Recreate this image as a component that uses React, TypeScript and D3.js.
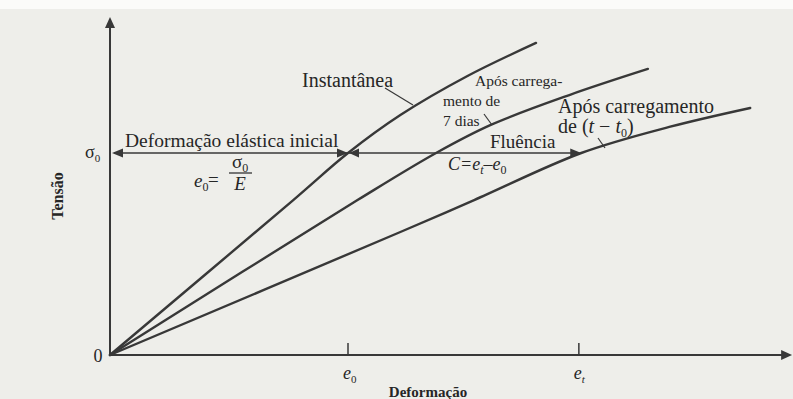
import React from "react";
import * as d3 from "d3";

// Stress–strain curves for concrete under sustained load (units: strain / e0, stress / σ0)
const instantStrain = [0, 0.77, 1.0, 1.22, 1.5, 1.79];
const instantStress = [0, 0.767, 1.0, 1.188, 1.38, 1.545];

const sevenDayStrain = [0, 1.04, 1.37, 1.6, 1.93, 2.26];
const sevenDayStress = [0, 0.767, 1.0, 1.139, 1.287, 1.416];

const creepStrain = [0, 1.22, 1.53, 1.98, 2.35, 2.69];
const creepStress = [0, 0.609, 0.767, 1.0, 1.129, 1.223];

const strainTickValues = [1.0, 1.97];
const strainTickSubs = ["0", "t"];
const stressLevel = 1.0;
const axisMaxStrain = 2.866;
const axisMaxStress = 1.673;

const W = 793;
const H = 399;
const INK = "#383838";
const TEXT = "#262626";
const SERIF = "'Liberation Serif', 'DejaVu Serif', serif";

const x = d3.scaleLinear().domain([0, 1]).range([110, 348]);
const y = d3.scaleLinear().domain([0, 1]).range([355, 153]);

const toPoints = (xs: number[], ys: number[]) => xs.map((v, i) => [v, ys[i]] as [number, number]);

const line = d3
  .line<[number, number]>()
  .x((d) => x(d[0]))
  .y((d) => y(d[1]))
  .curve(d3.curveCatmullRom.alpha(0.5));

const curves = [
  toPoints(instantStrain, instantStress),
  toPoints(sevenDayStrain, sevenDayStress),
  toPoints(creepStrain, creepStress),
];

// filled triangle arrowhead with tip at (tx,ty) pointing in direction angle (radians)
function arrowHead(tx: number, ty: number, angle: number, len = 11, half = 4.5) {
  const bx = tx - Math.cos(angle) * len;
  const by = ty - Math.sin(angle) * len;
  const px = -Math.sin(angle) * half;
  const py = Math.cos(angle) * half;
  return `M${tx},${ty}L${bx + px},${by + py}L${bx - px},${by - py}Z`;
}

export default function App() {
  const x0 = x(0);
  const y0 = y(0);
  const xEnd = x(axisMaxStrain);
  const yTop = y(axisMaxStress);
  const ys = y(stressLevel);
  const xInst = x(instantStrain[2]);
  const xCreep = x(creepStrain[3]);

  return (
    <svg
      width={W}
      height={H}
      viewBox={`0 0 ${W} ${H}`}
      style={{ position: "absolute", left: 0, top: 0, display: "block" }}
      fontFamily={SERIF}
    >
      <rect x={0} y={0} width={W} height={H} fill="#eeeeea" />
      <rect x={0} y={0} width={W} height={9} fill="#fbfbf9" />

      {/* axes */}
      <line x1={x0} y1={y0} x2={x0} y2={yTop + 6} stroke={INK} strokeWidth={2} />
      <path d={arrowHead(x0, yTop, -Math.PI / 2, 11, 5)} fill={INK} />
      <line x1={x0} y1={y0} x2={xEnd - 6} y2={y0} stroke={INK} strokeWidth={2} />
      <path d={arrowHead(xEnd, y0, 0, 11, 5)} fill={INK} />

      {/* strain ticks */}
      {strainTickValues.map((v, i) => (
        <g key={i}>
          <line x1={x(v)} y1={y0} x2={x(v)} y2={y0 - 12} stroke={INK} strokeWidth={1.5} />
          <text x={x(v) - 5} y={y0 + 24} fontSize={18} fontStyle="italic" fill={TEXT}>
            e
            <tspan fontSize={11} dy={4} fontStyle={strainTickSubs[i] === "0" ? "normal" : "italic"}>
              {strainTickSubs[i]}
            </tspan>
          </text>
        </g>
      ))}

      <text x={98} y={362} fontSize={18} textAnchor="middle" fill={TEXT}>0</text>
      <text x={85} y={158} fontSize={18} fill={TEXT}>
        σ<tspan fontSize={11} dy={4}>0</tspan>
      </text>

      {/* axis titles */}
      <text x={428} y={397} fontSize={15} fontWeight="bold" textAnchor="middle" fill={TEXT}>
        Deformação
      </text>
      <text
        transform="translate(63,196) rotate(-90)"
        fontSize={16}
        fontWeight="bold"
        textAnchor="middle"
        fill={TEXT}
      >
        Tensão
      </text>

      {/* curves */}
      {curves.map((c, i) => (
        <path key={i} d={line(c) ?? ""} fill="none" stroke={INK} strokeWidth={2.4} strokeLinecap="round" />
      ))}

      {/* stress level σ0: elastic strain and creep arrows */}
      <line x1={x0 + 4} y1={ys} x2={xCreep - 6} y2={ys} stroke={INK} strokeWidth={1.6} />
      <path d={arrowHead(x0 + 2, ys, Math.PI, 11, 4.5)} fill={INK} />
      <path d={arrowHead(xInst, ys, 0, 11, 4.5)} fill={INK} />
      <path d={arrowHead(xInst + 1, ys, Math.PI, 10, 4.5)} fill={INK} />
      <path d={arrowHead(xCreep, ys, 0, 11, 4.5)} fill={INK} />

      <text x={125} y={147} fontSize={19.5} fill={TEXT}>Deformação elástica inicial</text>

      {/* e0 = σ0 / E */}
      <text x={194} y={187} fontSize={19} fontStyle="italic" fill={TEXT}>
        e<tspan fontSize={12} dy={4} fontStyle="normal">0</tspan>
      </text>
      <text x={208} y={186} fontSize={19} fill={TEXT}>=</text>
      <text x={240} y={168} fontSize={19} textAnchor="middle" fill={TEXT}>
        σ<tspan fontSize={12} dy={4}>0</tspan>
      </text>
      <line x1={229} y1={173} x2={252} y2={173} stroke={TEXT} strokeWidth={1.2} />
      <text x={240} y={190} fontSize={19} fontStyle="italic" textAnchor="middle" fill={TEXT}>E</text>

      {/* curve labels */}
      <text x={302} y={87} fontSize={20} fill={TEXT}>Instantânea</text>
      <line x1={385} y1={88} x2={413} y2={105} stroke={INK} strokeWidth={1.2} />

      <text x={475} y={86} fontSize={15.5} fill={TEXT}>Após carrega-</text>
      <text x={443} y={106} fontSize={15.5} fill={TEXT}>mento de</text>
      <text x={443} y={126} fontSize={15.5} fill={TEXT}>7 dias</text>
      <line x1={484} y1={114} x2={492} y2={125} stroke={INK} strokeWidth={1.2} />

      <text x={558} y={113} fontSize={20} fill={TEXT}>Após carregamento</text>
      <text x={558} y={133} fontSize={20} fill={TEXT}>
        de (<tspan fontStyle="italic">t</tspan> − <tspan fontStyle="italic">t</tspan>
        <tspan fontSize={12} dy={4}>0</tspan>
        <tspan dy={-4}>)</tspan>
      </text>
      <line x1={598} y1={138} x2={605} y2={148} stroke={INK} strokeWidth={1.2} />

      <text x={490} y={148} fontSize={19} fill={TEXT}>Fluência</text>
      <text x={448} y={170} fontSize={18} fontStyle="italic" fill={TEXT}>
        C=e<tspan fontSize={12} dy={4}>t</tspan>
        <tspan dy={-4}>–e</tspan>
        <tspan fontSize={12} dy={4} fontStyle="normal">0</tspan>
      </text>
    </svg>
  );
}
